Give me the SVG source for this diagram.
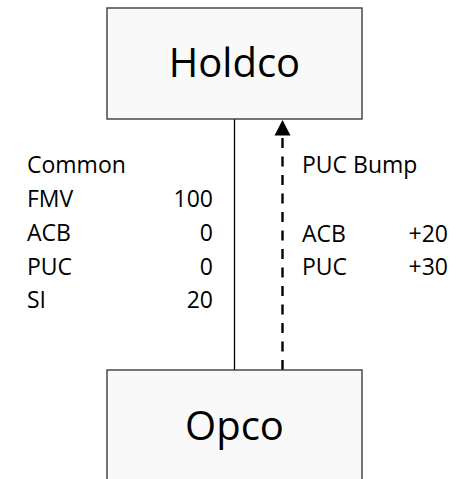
<svg xmlns="http://www.w3.org/2000/svg" width="472" height="479" viewBox="0 0 472 479">
<style>
.box{fill:#f9f9f9;stroke:#3c3c3c;stroke-width:1.4}
.title{font-family:"Open Sans","Liberation Sans",sans-serif;font-size:40px;fill:#000;text-anchor:middle}
.lbl{font-family:"Open Sans","Liberation Sans",sans-serif;font-size:23px;fill:#000}
.num{text-anchor:end}
</style>
<g id="connectors">
<line x1="234.5" y1="119" x2="234.5" y2="370" stroke="#000" stroke-width="1.3"/>
<line x1="282.5" y1="370" x2="282.5" y2="135" stroke="#000" stroke-width="2.4" stroke-dasharray="10 8.5"/>
<polygon points="282.5,120 274.5,135.5 290.5,135.5" fill="#000"/>
</g>
<g id="holdco">
<rect class="box" x="107" y="8" width="255" height="111"/>
<text class="title" x="234.5" y="77">Holdco</text>
</g>
<g id="opco">
<rect class="box" x="107" y="370" width="255" height="115"/>
<text class="title" x="234.5" y="440">Opco</text>
</g>
<g id="common-labels">
<text class="lbl" x="27" y="173">Common</text>
<text class="lbl" x="27" y="207">FMV</text>
<text class="lbl num" x="213" y="207">100</text>
<text class="lbl" x="27" y="241">ACB</text>
<text class="lbl num" x="213" y="241">0</text>
<text class="lbl" x="27" y="274.5">PUC</text>
<text class="lbl num" x="213" y="274.5">0</text>
<text class="lbl" x="27" y="307.5">SI</text>
<text class="lbl num" x="213" y="307.5">20</text>
</g>
<g id="bump-labels">
<text class="lbl" x="302" y="173">PUC Bump</text>
<text class="lbl" x="302" y="241.5">ACB</text>
<text class="lbl num" x="448" y="241.5">+20</text>
<text class="lbl" x="302" y="275">PUC</text>
<text class="lbl num" x="448" y="275">+30</text>
</g>
</svg>
